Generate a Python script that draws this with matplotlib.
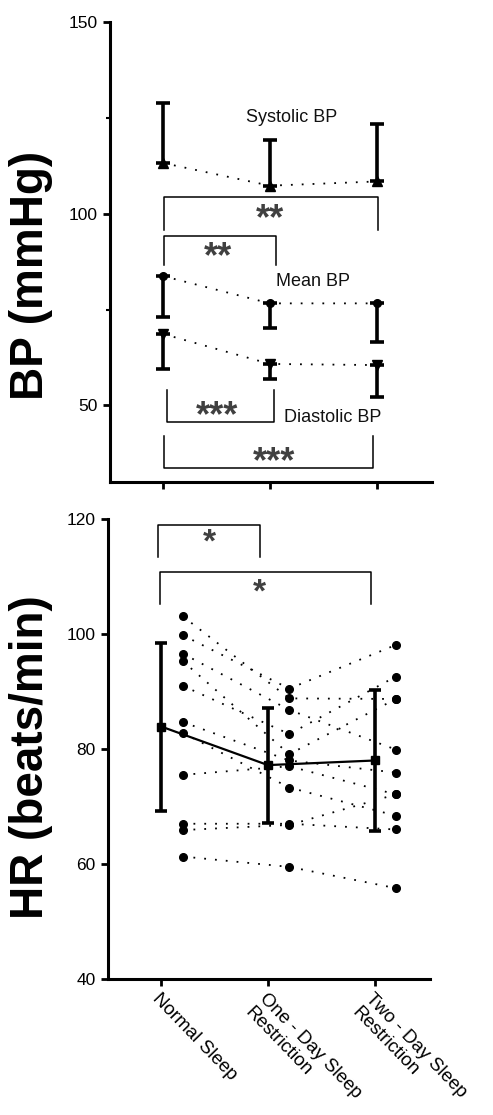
import matplotlib
matplotlib.use("Agg")
import matplotlib.pyplot as plt
import numpy as np

plt.rcParams['font.family'] = ['Liberation Sans', 'DejaVu Sans']

# conditions
groups = ["Normal Sleep", "One - Day Sleep\nRestriction", "Two - Day Sleep\nRestriction"]

# blood pressure (mean and one-sided SD)
sys_mean = [113.2, 107.3, 108.4]
sys_sd = [15.8, 12.0, 15.0]
map_mean = [83.7, 76.6, 76.6]
map_sd = [10.7, 6.4, 10.0]
dia_mean = [68.6, 60.8, 60.5]
dia_sd = [9.2, 4.0, 8.4]

# heart rate group means and SD
hr_mean = [83.9, 77.2, 78.0]
hr_sd = [14.6, 10.0, 12.3]

# individual subjects heart rate
hr_normal = [103.1, 99.8, 96.6, 95.3, 91.0, 84.7, 82.8, 75.5, 67.0, 65.9, 61.3]
hr_one = [88.8, 90.5, 86.8, 79.1, 82.6, 78.0, 73.3, 77.0, 67.0, 66.8, 59.5]
hr_two = [88.7, 98.1, 79.9, 88.7, 92.6, 75.9, 68.4, 72.1, 66.0, 72.1, 55.8]

x = np.arange(3)
dots = (0, (1, 5))

fig = plt.figure(figsize=(4.93, 11.15), dpi=100)
ax1 = fig.add_axes([110/493, 1-482/1115, 322/493, 460/1115])
ax2 = fig.add_axes([108/493, 1-979/1115, 322/493, 460/1115])

for ax in (ax1, ax2):
    ax.spines['top'].set_visible(False)
    ax.spines['right'].set_visible(False)
    ax.spines['left'].set_linewidth(2.2)
    ax.spines['bottom'].set_linewidth(2.2)
    ax.tick_params(direction='out', length=5, width=2, labelsize=12.5, pad=4)
    ax.set_xlim(-0.5, 2.52)
    ax.set_xticks(x)

# ---- top panel: BP
ek = dict(fmt='none', ecolor='black', elinewidth=2.6, capsize=4.7, capthick=2.6)
ax1.errorbar(x, sys_mean, yerr=[np.zeros(3), sys_sd], **ek)
ax1.errorbar(x, map_mean, yerr=[map_sd, np.zeros(3)], **ek)
ax1.errorbar(x, dia_mean, yerr=[dia_sd, np.zeros(3)], **ek)
ax1.plot(x, sys_mean, color='black', lw=1.3, ls=dots, marker='^', ms=7.5)
ax1.plot(x, map_mean, color='black', lw=1.3, ls=dots, marker='o', ms=5.5)
ax1.plot(x, dia_mean, color='black', lw=1.3, ls=dots, marker='v', ms=7.5)

ax1.set_ylim(30, 150)
ax1.set_yticks([50, 100, 150])
ax1.set_yticks([75, 125], minor=True)
ax1.tick_params(axis='y', which='minor', length=3, width=1.5)
ax1.set_xticklabels([])

txt = dict(fontsize=13, color='#111111', ha='left', va='center')
ax1.text(0.78, 125, "Systolic BP", **txt)
ax1.text(1.06, 82.3, "Mean BP", **txt)
ax1.text(1.13, 46.9, "Diastolic BP", **txt)


def bracket(ax, x0, x1, y, yleg, star, sx, sy, size):
    ax.plot([x0, x0, x1, x1], [yleg, y, y, yleg], color='black', lw=1.1)
    ax.text(sx, sy, star, ha='center', va='center', fontsize=size,
            color='#404040', fontweight='bold')


bracket(ax1, 0.01, 2.01, 104.4, 95.8, "**", 1.0, 98.5, 26)
bracket(ax1, 0.01, 1.06, 94.3, 86.7, "**", 0.51, 88.6, 26)
bracket(ax1, 0.03, 1.04, 45.7, 54.0, "***", 0.5, 47.0, 26)
bracket(ax1, 0.01, 1.97, 33.6, 42.0, "***", 1.04, 35.0, 26)

ax1.set_ylabel("BP (mmHg)", fontsize=33, fontweight='bold')
ax1.yaxis.set_label_coords(-0.177, 0.448)

# ---- bottom panel: HR
off = 0.2
for a, b, c in zip(hr_normal, hr_one, hr_two):
    ax2.plot(x + off, [a, b, c], color='black', lw=1.3, ls=dots)
ax2.plot(np.full(len(hr_normal), off), hr_normal, 'o', color='black', ms=5.5)
ax2.plot(np.full(len(hr_one), 1 + off), hr_one, 'o', color='black', ms=5.5)
ax2.plot(np.full(len(hr_two), 2 + off), hr_two, 'o', color='black', ms=5.5)

ax2.errorbar(x, hr_mean, yerr=hr_sd, fmt='none', ecolor='black',
             elinewidth=2.6, capsize=4.3, capthick=2.6)
ax2.plot(x, hr_mean, color='black', lw=1.6, marker='s', ms=6)

ax2.set_ylim(40, 120)
ax2.set_yticks([40, 60, 80, 100, 120])

bracket(ax2, -0.03, 0.925, 119.0, 113.4, "*", 0.45, 115.8, 24)
bracket(ax2, -0.01, 1.97, 110.7, 105.3, "*", 0.92, 107.2, 24)

ax2.set_xticklabels(groups, rotation=-46, ha='left', va='top',
                    rotation_mode='anchor', fontsize=13.5)
ax2.tick_params(axis='x', pad=3)

ax2.set_ylabel("HR (beats/min)", fontsize=33, fontweight='bold')
ax2.yaxis.set_label_coords(-0.17, 0.483)

fig.savefig("out.png", dpi=100)
